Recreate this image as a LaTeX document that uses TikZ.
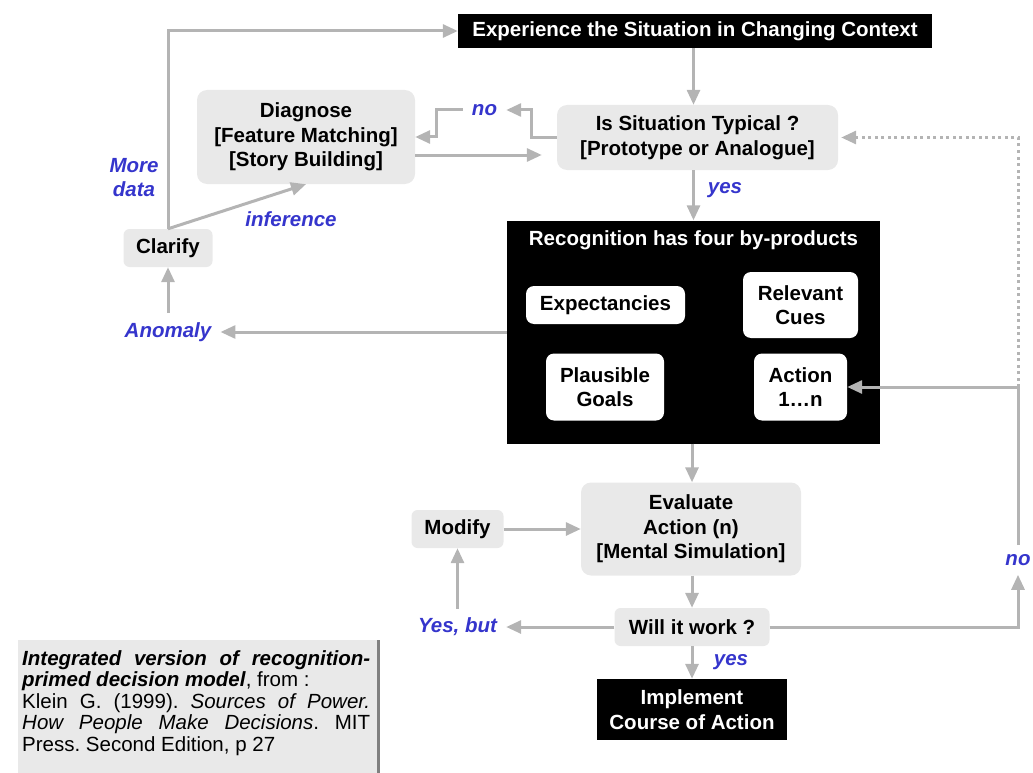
\documentclass[tikz,border=0pt]{standalone}
\usepackage{fontspec}
\setmainfont{Liberation Sans}
\usepackage{xcolor}
\usepackage{tikz}
\usetikzlibrary{arrows.meta,positioning,calc}

\definecolor{arrgray}{HTML}{B4B4B4}
\definecolor{boxgray}{HTML}{E9E9E9}
\definecolor{lblblue}{HTML}{3535CC}
\definecolor{capedge}{HTML}{808080}

\begin{document}
\begin{tikzpicture}[
  x=1pt,y=-1pt,
  font=\fontsize{20.5}{24.5}\selectfont\bfseries,
  greybox/.style={fill=boxgray,rounded corners=10pt,align=center,inner sep=0pt},
  darkbox/.style={fill=black,text=white,align=center,inner sep=0pt},
  whitebox/.style={fill=white,rounded corners=8pt,align=center,inner sep=0pt},
  lbl/.style={text=lblblue,font=\fontsize{20.5}{24}\selectfont\bfseries\itshape,align=center,inner sep=9pt},
  arr/.style={-{Triangle[length=15pt,width=13pt]},arrgray,line width=3pt},
  dotarr/.style={arr,dash pattern=on 3pt off 3.5pt}
]
  \useasboundingbox (0,0) rectangle (1033,773);

  % main column
  \node[darkbox,minimum width=474pt,minimum height=34pt] (exp) at (695,31) {Experience the Situation in Changing Context};
  \node[greybox,minimum width=281pt,minimum height=65pt] (typical) at (697.5,137.5) {Is Situation Typical ?\\{[}Prototype or Analogue{]}};
  \node[darkbox,minimum width=373pt,minimum height=223pt] (recog) at (693.5,332) {};
  \node[text=white,inner sep=0pt] (recogtitle) at (693.5,240) {Recognition has four by-products};
  \node[whitebox,minimum width=159pt,minimum height=38pt] (expect) at (605.5,305) {Expectancies};
  \node[whitebox,minimum width=115pt,minimum height=66pt] (cues) at (800.5,305) {Relevant\\Cues};
  \node[whitebox,minimum width=118pt,minimum height=67pt] (goals) at (605,387) {Plausible\\Goals};
  \node[whitebox,minimum width=93pt,minimum height=67pt] (action) at (800.5,387) {Action\\1…n};
  \node[greybox,minimum width=220pt,minimum height=93pt] (evaluate) at (691,529) {Evaluate\\Action (n)\\{[}Mental Simulation{]}};
  \node[greybox,rounded corners=6pt,minimum width=155pt,minimum height=38pt] (willwork) at (692,627) {Will it work ?};
  \node[darkbox,minimum width=190pt,minimum height=61pt] (implement) at (692,709.5) {Implement\\Course of Action};

  % left side
  \node[greybox,minimum width=218pt,minimum height=94pt] (diag) at (306,137) {Diagnose\\{[}Feature Matching{]}\\{[}Story Building{]}};
  \node[greybox,rounded corners=6pt,minimum width=89pt,minimum height=38pt] (clarify) at (168,248) {Clarify};
  \node[greybox,rounded corners=6pt,minimum width=92pt,minimum height=38pt] (modify) at (457.5,529) {Modify};

  % labels
  \node[lbl] (no1) at (484.5,110) {no};
  \node[lbl] (more) at (134,178) {More\\data};
  \node[lbl] (infer) at (291,219) {inference};
  \node[lbl] (yes1) at (725,190) {yes};
  \node[lbl] (anomaly) at (168,332) {Anomaly};
  \node[lbl] (yesbut) at (457.5,627) {Yes, but};
  \node[lbl] (yes2) at (731,662) {yes};
  \node[lbl] (no2) at (1018,560) {no};

  % connectors
  \draw[arr] (clarify.north) |- (exp.west);
  \draw[arr] (exp.south -| recog.north) -- (typical.north -| recog.north);
  \draw[arr] (typical.west) -- ++(-25,0) |- (no1.east);
  \draw[arr] (no1.west) -- ++(-26,0) |- (diag.east);
  \draw[arr,shorten >=15pt] ($(diag.east)+(0,18)$) -- ($(typical.west)+(0,17.5)$);
  \draw[arr] (clarify.north) -- (diag.south);
  \draw[arr] (typical.south -| recog.north) -- (recog.north);
  \draw[arr] (recog.west) -- (anomaly.east);
  \draw[arr] (anomaly.north) -- (clarify.south);
  \draw[arr] (recog.south -| willwork.north) -- (evaluate.north -| willwork.north);
  \draw[arr] (modify.east) -- (evaluate.west);
  \draw[arr] (evaluate.south -| willwork.north) -- (willwork.north);
  \draw[arr] (willwork.west) -- (yesbut.east);
  \draw[arr] (yesbut.north) -- (modify.south);
  \draw[arr] (willwork.south) -- (implement.north);
  \draw[arr] (willwork.east) -| (no2.south);
  \coordinate (turn) at (no2.north |- action.east);
  \draw[arr] (no2.north) |- (action.east);
  \draw[dotarr,shorten >=3pt] (turn) |- (typical.east);

  % source note
  \fill[boxgray] (18,640) rectangle (380,773);
  \draw[capedge,line width=3pt] (378.5,640) -- (378.5,773);
  \node[anchor=north west,text width=348pt,align=justify,inner sep=0pt,font=\fontsize{20.5}{21.5}\selectfont\mdseries\frenchspacing] (caption) at (22,650)
    {\hyphenpenalty=10000 \textbf{\textit{Integrated version of recognition-\linebreak primed decision model}}, from :\\
     Klein G. (1999). \textit{Sources of Power.}\linebreak \textit{How People Make Decisions}. MIT\linebreak Press. Second Edition, p 27};
\end{tikzpicture}
\end{document}
